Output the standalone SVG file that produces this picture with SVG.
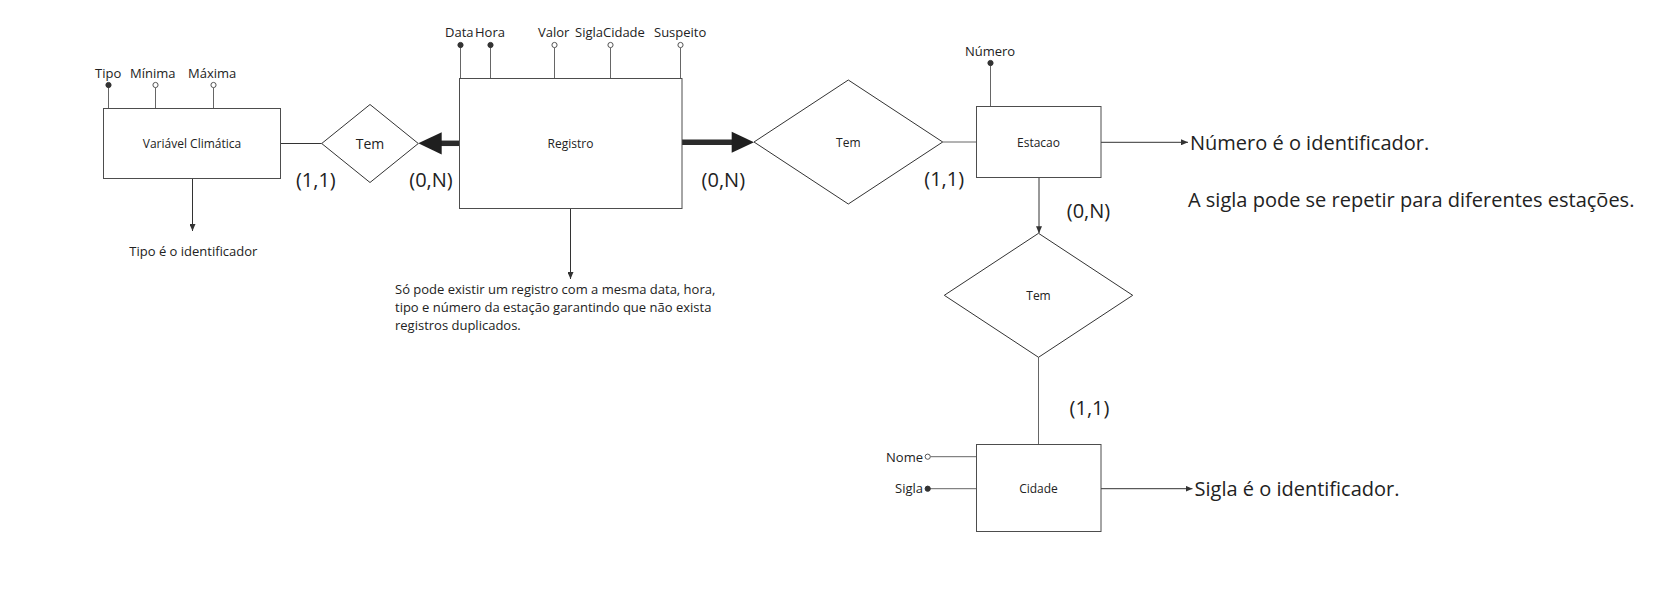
<svg xmlns="http://www.w3.org/2000/svg" width="1664" height="600" viewBox="0 0 1664 600">
<defs>
<style>
text{font-family:"Open Sans","Noto Sans","Liberation Sans",sans-serif;fill:#222}
.ent{fill:#fff;stroke:#4d4d4d;stroke-width:1}
.rel{fill:#fff;stroke:#333;stroke-width:1}
.lbl{font-size:12px;text-anchor:middle}
.att{font-size:13px}
.card{font-size:20px;text-anchor:middle}
.note{font-size:20px}
.small{font-size:13px}
.ln{fill:none;stroke:#666;stroke-width:1}
.lnd{fill:none;stroke:#333;stroke-width:1}
.thick{fill:none;stroke:#2b2b2b;stroke-width:5.5}
.head{fill:#1f1f1f}
.key{fill:#333;stroke:#333;stroke-width:1}
.opt{fill:#fff;stroke:#555;stroke-width:1}
</style>
<marker id="arr" viewBox="0 0 7 6" refX="7" refY="3" markerWidth="7" markerHeight="6" markerUnits="userSpaceOnUse" orient="auto">
<path d="M0,0 L7,3 L0,6 z" fill="#333"/>
</marker>
</defs>
<rect width="1664" height="600" fill="#fff"/>

<g id="connectors">
<path class="ln" d="M108.5,85 V108.5"/>
<path class="ln" d="M155.5,87.5 V108.5"/>
<path class="ln" d="M213.5,87.5 V108.5"/>
<path class="ln" d="M460.5,45 V78.5"/>
<path class="ln" d="M490.5,45 V78.5"/>
<path class="ln" d="M554.5,47.5 V78.5"/>
<path class="ln" d="M610.5,47.5 V78.5"/>
<path class="ln" d="M680.5,47.5 V78.5"/>
<path class="ln" d="M990.5,63 V106.5"/>
<path class="ln" d="M930.5,456.7 H976.5"/>
<path class="ln" d="M927.7,488.7 H976.5"/>
<path class="lnd" d="M280.7,143.5 H321.7"/>
<path class="thick" d="M459.3,143.3 H440.5"/>
<polygon class="head" points="441.7,132.2 418.3,143.3 441.7,154.4"/>
<path class="thick" d="M682,142.3 H732.5"/>
<polygon class="head" points="731.7,131.7 754,142.2 731.7,152.7"/>
<path class="ln" d="M942.7,142 H976.5"/>
<path class="lnd" d="M1039,177.3 V233.3" marker-end="url(#arr)"/>
<path class="ln" d="M1038.5,357.3 V444.5"/>
<path class="lnd" d="M1101,142.3 H1188" marker-end="url(#arr)"/>
<path class="lnd" d="M1101,488.7 H1192.5" marker-end="url(#arr)"/>
<path class="lnd" d="M192.5,178.5 V231" marker-end="url(#arr)"/>
<path class="lnd" d="M570.5,208.5 V279" marker-end="url(#arr)"/>
</g>

<g id="variavel-climatica">
<rect class="ent" x="103.5" y="108.5" width="177" height="70"/>
<text class="lbl" x="192" y="148">Variável Climática</text>
</g>
<g id="attr-tipo">
<circle class="key" cx="108.5" cy="85" r="2.6"/>
<text class="att" x="95" y="78">Tipo</text>
</g>
<g id="attr-minima">
<circle class="opt" cx="155.5" cy="85" r="2.6"/>
<text class="att" x="130" y="78">Mínima</text>
</g>
<g id="attr-maxima">
<circle class="opt" cx="213.5" cy="85" r="2.6"/>
<text class="att" x="188" y="78">Máxima</text>
</g>

<g id="rel-tem-1">
<polygon class="rel" points="321.7,143.5 370,104.5 418.3,143.5 370,182.5"/>
<text x="370" y="149.3" style="font-size:14px;text-anchor:middle">Tem</text>
</g>

<g id="registro">
<rect class="ent" x="459.5" y="78.5" width="222.5" height="130"/>
<text class="lbl" x="570.5" y="148">Registro</text>
</g>
<g id="attr-data">
<circle class="key" cx="460.5" cy="45" r="2.6"/>
<text class="att" x="445" y="37">Data</text>
</g>
<g id="attr-hora">
<circle class="key" cx="490.5" cy="45" r="2.6"/>
<text class="att" x="475" y="37">Hora</text>
</g>
<g id="attr-valor">
<circle class="opt" cx="554.5" cy="45" r="2.6"/>
<text class="att" x="538" y="37">Valor</text>
</g>
<g id="attr-siglacidade">
<circle class="opt" cx="610.5" cy="45" r="2.6"/>
<text class="att" x="575" y="37">SiglaCidade</text>
</g>
<g id="attr-suspeito">
<circle class="opt" cx="680.5" cy="45" r="2.6"/>
<text class="att" x="654" y="37">Suspeito</text>
</g>

<g id="rel-tem-2">
<polygon class="rel" points="754,142 848.3,80 942.7,142 848.3,204"/>
<text class="lbl" x="848.3" y="147.3">Tem</text>
</g>

<g id="estacao">
<rect class="ent" x="976.5" y="106.5" width="124.5" height="71"/>
<text class="lbl" x="1038.5" y="147.3">Estacao</text>
</g>
<g id="attr-numero">
<circle class="key" cx="990.5" cy="63" r="2.6"/>
<text class="att" x="990" y="56" text-anchor="middle">Número</text>
</g>

<g id="rel-tem-3">
<polygon class="rel" points="944.3,295.3 1038.5,233.3 1132.7,295.3 1038.5,357.3"/>
<text class="lbl" x="1038.5" y="300">Tem</text>
</g>

<g id="cidade">
<rect class="ent" x="976.5" y="444.5" width="124.5" height="87"/>
<text class="lbl" x="1038.5" y="493.3">Cidade</text>
</g>
<g id="attr-nome">
<circle class="opt" cx="927.7" cy="456.7" r="2.6"/>
<text class="att" x="923" y="462" text-anchor="end">Nome</text>
</g>
<g id="attr-sigla">
<circle class="key" cx="927.7" cy="488.7" r="2.6"/>
<text class="att" x="923" y="493" text-anchor="end">Sigla</text>
</g>

<g id="cardinalities">
<text class="card" x="315.8" y="187">(1,1)</text>
<text class="card" x="431" y="187">(0,N)</text>
<text class="card" x="723.3" y="187">(0,N)</text>
<text class="card" x="944.2" y="185.5">(1,1)</text>
<text class="card" x="1088.5" y="218.2">(0,N)</text>
<text class="card" x="1089.5" y="415.2">(1,1)</text>
</g>

<g id="notes">
<text class="small" x="129.3" y="256">Tipo é o identificador</text>
<text class="small" x="395" y="294.3">Só pode existir um registro com a mesma data, hora,</text>
<text class="small" x="395" y="312.2">tipo e número da estação garantindo que não exista</text>
<text class="small" x="395" y="330">registros duplicados.</text>
<text class="note" x="1190" y="150">Número é o identificador.</text>
<text class="note" x="1188" y="207.3">A sigla pode se repetir para diferentes estações.</text>
<text class="note" x="1194.5" y="496">Sigla é o identificador.</text>
</g>
</svg>
